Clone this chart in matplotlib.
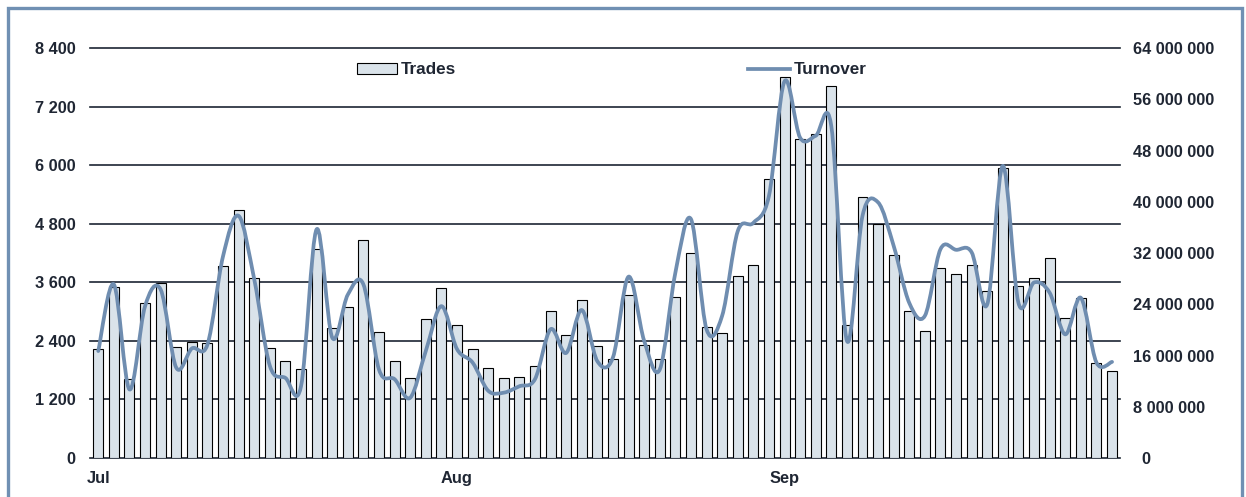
import numpy as np
import matplotlib
matplotlib.use("Agg")
import matplotlib.pyplot as plt
from matplotlib.path import Path
from matplotlib.patches import PathPatch, Rectangle, Patch
from matplotlib.lines import Line2D
from matplotlib.ticker import FuncFormatter

# Daily trades (left axis) and turnover (right axis), Jul-Sep
trades = [2240, 3503, 1625, 3169, 3578, 2274, 2376, 2349, 3934, 5074,
          3688, 2247, 1987, 1823, 4289, 2670, 3100, 4473, 2581, 1980,
          1639, 2841, 3483, 2732, 2226, 1851, 1632, 1653, 1892, 3012,
          2513, 3237, 2301, 2035, 3339, 2315, 2035, 3298, 4200, 2691,
          2568, 3729, 3947, 5709, 7799, 6542, 6645, 7621, 2718, 5347,
          4787, 4166, 3012, 2609, 3899, 3763, 3947, 3415, 5934, 3524,
          3694, 4097, 2874, 3272, 1952, 1782]
turnover_m = [16.7, 27.1, 10.7, 23.7, 26.3, 14.1, 17.1, 17.7, 31.5, 37.8,
              27.9, 14.4, 12.5, 11.2, 35.7, 18.8, 25.5, 27.1, 13.8, 12.3,
              9.4, 16.7, 23.7, 17.0, 14.9, 10.5, 10.2, 11.2, 12.3, 20.1,
              16.4, 23.1, 15.1, 15.7, 28.3, 18.3, 13.8, 28.9, 37.3, 20.1,
              22.2, 35.4, 36.7, 40.9, 58.8, 50.0, 50.3, 51.8, 18.3, 37.8,
              39.9, 33.1, 24.2, 22.2, 32.6, 32.5, 32.1, 24.0, 45.6, 24.2,
              27.4, 25.8, 19.3, 25.0, 14.9, 15.0]
month_labels = ["Jul", "Aug", "Sep"]
month_starts = [0, 23, 44]

bar_color = "#dae3ea"
line_color = "#6f8db0"
text_color = "#1f2633"
grid_color = "#1c2533"

plt.rcParams['font.family'] = ['Liberation Sans', 'DejaVu Sans']

fig = plt.figure(figsize=(12.46, 4.97), dpi=100)
ax = fig.add_axes([90 / 1246, 39 / 497, 1030 / 1246, 410 / 497])
ax2 = ax.twinx()

x = np.arange(len(trades))
ax.bar(x, trades, width=0.64, color=bar_color, edgecolor="black", linewidth=0.8, zorder=2)

ax.set_xlim(-0.53, len(trades) - 0.49)
ax.set_ylim(0, 8400)
ax.set_yticks(np.arange(0, 8401, 1200))
ax.yaxis.set_major_formatter(FuncFormatter(lambda v, p: f"{int(v):,}".replace(",", " ")))
ax.grid(axis="y", color=grid_color, linewidth=1.2, zorder=0)
ax.set_axisbelow(True)
for gl in ax.get_ygridlines():
    gl.set_clip_on(False)
ax.set_xticks(month_starts)
ax.set_xticklabels(month_labels)

# turnover as a smoothed line (Excel-like bezier)
y = np.array(turnover_m) * 1e6
n = len(y)
verts = [(x[0], y[0])]
codes = [Path.MOVETO]
for i in range(n - 1):
    p0 = (x[max(i - 1, 0)], y[max(i - 1, 0)])
    p1 = (x[i], y[i])
    p2 = (x[i + 1], y[i + 1])
    p3 = (x[min(i + 2, n - 1)], y[min(i + 2, n - 1)])
    c1 = (p1[0] + (p2[0] - p0[0]) / 6, p1[1] + (p2[1] - p0[1]) / 6)
    c2 = (p2[0] - (p3[0] - p1[0]) / 6, p2[1] - (p3[1] - p1[1]) / 6)
    verts += [c1, c2, p2]
    codes += [Path.CURVE4] * 3
ax2.add_patch(PathPatch(Path(verts, codes), facecolor="none", edgecolor=line_color,
                        linewidth=2.7, capstyle="round", joinstyle="round", zorder=3))
ax2.set_ylim(0, 64e6)
ax2.set_yticks(np.arange(0, 64e6 + 1, 8e6))
ax2.yaxis.set_major_formatter(FuncFormatter(
    lambda v, p: "  0" if v == 0 else f"{int(v):,}".replace(",", " ")))

for a in (ax, ax2):
    for s in a.spines.values():
        s.set_visible(False)
    a.tick_params(length=0, labelsize=11.8, labelcolor=text_color)
    for lab in a.get_yticklabels() + a.get_xticklabels():
        lab.set_fontweight("bold")
ax.tick_params(axis="y", pad=10.5)
ax.tick_params(axis="x", pad=9.5)
ax2.tick_params(axis="y", pad=9.5)

leg_kw = dict(frameon=False, borderpad=0, borderaxespad=0, handletextpad=0.2,
              loc="center left", bbox_transform=fig.transFigure,
              prop={"weight": "bold", "size": 12.3})
leg1 = fig.legend([Patch(facecolor=bar_color, edgecolor="black", linewidth=0.8)], ["Trades"],
                  bbox_to_anchor=(357 / 1246, 1 - 70 / 497), handlelength=2.35,
                  handleheight=0.6, **leg_kw)
leg2 = fig.legend([Line2D([], [], color=line_color, linewidth=2.7)], ["Turnover"],
                  bbox_to_anchor=(748 / 1246, 1 - 70 / 497), handlelength=2.45, **leg_kw)
for lg in (leg1, leg2):
    for t in lg.get_texts():
        t.set_color(text_color)

# outer frame
fig.patches.append(Rectangle((7.5 / 1246, -0.05), 1234 / 1246, 1.05 - 7.5 / 497,
                             transform=fig.transFigure, fill=False,
                             edgecolor="#7090b3", linewidth=2.4))

plt.savefig("out.png", dpi=100)
